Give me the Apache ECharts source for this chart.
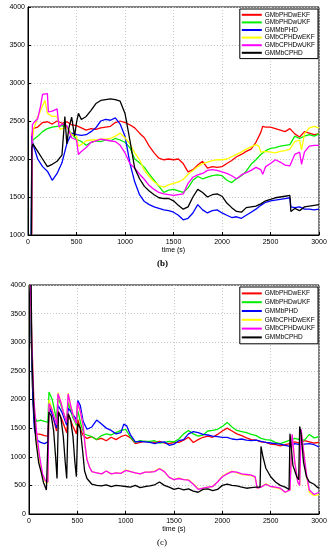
<!DOCTYPE html>
<html><head><meta charset="utf-8">
<script src="https://cdn.jsdelivr.net/npm/echarts@6/dist/echarts.min.js"></script>
<style>html,body{margin:0;padding:0;background:#fff}#c{width:329px;height:550px}</style>
</head><body><div id="c"></div>
<script>
const seriesNames = ['GMbPHDwEKF','GMbPHDwUKF','GMMbPHD','GMbCPHDwEKF','GMbCPHDwUKF','GMMbCPHD'];
const seriesColors = ['#ff0000','#00ee00','#0000ff','#ffff00','#ff00ff','#000000'];
const xTicks = [0,500,1000,1500,2000,2500,3000];

// (b) OSPA Localization Error, [time, value]
const locPHDwEKF = [[35,1000],[40,2300],[50,2400],[100,2420],[150,2480],[200,2490],[250,2460],[300,2500],[350,2470],[400,2490],[450,2450],[500,2440],[550,2410],[600,2380],[650,2400],[700,2390],[750,2410],[800,2420],[850,2430],[900,2480],[950,2500],[1000,2480],[1050,2450],[1100,2410],[1150,2340],[1200,2280],[1250,2170],[1300,2080],[1350,2010],[1400,1990],[1450,2000],[1500,1990],[1550,2000],[1600,1940],[1650,1830],[1700,1860],[1750,1920],[1800,1970],[1850,1880],[1900,1900],[1950,1890],[2000,1900],[2050,1940],[2100,1980],[2150,2030],[2200,2060],[2250,2100],[2300,2130],[2350,2220],[2400,2350],[2420,2430],[2450,2420],[2500,2420],[2550,2400],[2600,2380],[2650,2360],[2700,2400],[2750,2330],[2800,2290],[2850,2360],[2900,2340],[2950,2320],[3000,2330]];
const locPHDwUKF = [[33,1000],[40,2200],[50,2250],[100,2300],[150,2360],[200,2400],[250,2420],[300,2430],[350,2440],[400,2420],[450,2330],[500,2260],[550,2230],[600,2180],[650,2220],[700,2240],[750,2230],[800,2250],[850,2240],[900,2270],[950,2250],[1000,2220],[1050,2150],[1100,2000],[1150,1950],[1200,1890],[1250,1800],[1300,1720],[1350,1640],[1400,1560],[1450,1590],[1500,1600],[1550,1580],[1600,1560],[1620,1540],[1650,1620],[1700,1720],[1750,1770],[1800,1740],[1850,1760],[1900,1780],[1950,1790],[2000,1780],[2050,1720],[2100,1690],[2150,1740],[2200,1780],[2250,1840],[2300,1930],[2350,1990],[2400,2060],[2450,2110],[2500,2140],[2550,2150],[2600,2170],[2650,2180],[2700,2190],[2750,2300],[2800,2270],[2850,2300],[2900,2320],[2950,2300],[3000,2330]];
const locMbPHD = [[32,1000],[40,2300],[50,2200],[100,2000],[150,1900],[200,1840],[250,1720],[300,1810],[350,1950],[400,2200],[450,2340],[500,2320],[550,2310],[600,2320],[650,2360],[700,2410],[750,2500],[800,2520],[850,2510],[900,2540],[950,2460],[1000,2300],[1050,1950],[1100,1700],[1150,1530],[1200,1440],[1250,1400],[1300,1370],[1350,1350],[1400,1330],[1450,1320],[1500,1300],[1550,1260],[1600,1200],[1650,1220],[1700,1290],[1750,1400],[1800,1330],[1850,1290],[1900,1320],[1950,1330],[2000,1290],[2050,1260],[2100,1230],[2150,1240],[2200,1220],[2250,1260],[2300,1300],[2350,1340],[2400,1390],[2450,1430],[2500,1450],[2550,1460],[2600,1470],[2650,1480],[2700,1490],[2710,1370],[2750,1360],[2800,1370],[2850,1340],[2900,1340],[2950,1330],[3000,1340]];
const locCPHDwEKF = [[38,1000],[45,2250],[60,2400],[100,2550],[150,2700],[175,2770],[200,2600],[250,2560],[300,2560],[330,2390],[350,2380],[400,2420],[450,2320],[500,2300],[520,2170],[550,2190],[600,2240],[650,2250],[700,2250],[750,2260],[800,2260],[850,2270],[900,2300],[950,2340],[1000,2280],[1050,2200],[1100,2080],[1150,1990],[1200,1850],[1250,1770],[1300,1700],[1350,1650],[1400,1630],[1450,1660],[1500,1680],[1550,1700],[1600,1730],[1650,1800],[1700,1850],[1750,1900],[1800,1940],[1850,1960],[1900,1980],[1950,1990],[2000,1990],[2050,2000],[2100,2030],[2150,2060],[2200,2090],[2250,2130],[2300,2160],[2350,2190],[2380,2170],[2400,2090],[2450,2100],[2500,2090],[2550,2080],[2600,2100],[2650,2110],[2700,2130],[2750,2230],[2800,2250],[2820,2120],[2850,2330],[2900,2410],[2950,2430],[3000,2410]];
const locCPHDwUKF = [[38,1000],[45,2450],[60,2480],[100,2530],[130,2700],[150,2850],[200,2860],[210,2620],[250,2630],[300,2660],[320,2420],[350,2460],[400,2440],[450,2280],[500,2250],[520,2060],[550,2100],[600,2150],[650,2220],[700,2240],[750,2260],[800,2250],[850,2240],[900,2230],[950,2180],[1000,2080],[1050,1940],[1100,1880],[1150,1800],[1200,1730],[1250,1650],[1300,1600],[1350,1560],[1400,1540],[1450,1530],[1500,1520],[1550,1530],[1600,1540],[1620,1560],[1650,1680],[1700,1760],[1750,1790],[1800,1810],[1850,1850],[1900,1860],[1950,1850],[2000,1830],[2050,1810],[2100,1780],[2150,1740],[2200,1790],[2250,1820],[2300,1850],[2350,1890],[2400,1860],[2420,1800],[2450,1900],[2500,1940],[2550,1990],[2600,1960],[2650,1920],[2700,1910],[2750,2060],[2800,2090],[2820,1930],[2850,2090],[2900,2170],[2950,2180],[3000,2180]];
const locMbCPHD = [[36,1000],[40,2150],[50,2200],[100,2100],[150,2000],[200,1900],[250,1930],[300,1970],[350,2050],[380,2560],[400,2200],[420,2400],[450,2550],[480,2300],[500,2480],[520,2600],[550,2520],[600,2560],[650,2640],[700,2730],[750,2770],[800,2780],[850,2790],[900,2780],[950,2760],[1000,2600],[1050,2250],[1100,1880],[1150,1740],[1200,1640],[1250,1580],[1300,1530],[1350,1490],[1400,1480],[1450,1480],[1500,1450],[1550,1390],[1600,1340],[1650,1370],[1700,1500],[1750,1600],[1800,1560],[1850,1500],[1900,1530],[1950,1540],[2000,1510],[2050,1420],[2100,1360],[2150,1310],[2200,1300],[2250,1360],[2300,1370],[2350,1380],[2400,1410],[2450,1450],[2500,1470],[2550,1490],[2600,1500],[2650,1510],[2700,1520],[2710,1310],[2750,1350],[2800,1320],[2850,1370],[2900,1380],[2950,1390],[3000,1400]];

// (c) OSPA Cardinality Error, [time, value]
const cardPHDwEKF = [[15,4000],[25,3000],[40,2000],[60,1500],[80,1400],[120,1390],[160,1370],[195,1360],[207,1880],[240,1750],[285,1450],[300,1800],[340,1650],[390,1420],[405,1750],[450,1550],[490,1400],[505,1650],[540,1450],[560,1370],[600,1320],[650,1350],[700,1300],[750,1320],[800,1280],[850,1340],[900,1300],[950,1350],[1000,1380],[1050,1330],[1100,1230],[1150,1250],[1200,1270],[1250,1260],[1300,1250],[1350,1270],[1400,1240],[1450,1230],[1500,1250],[1550,1250],[1600,1290],[1650,1340],[1700,1250],[1750,1300],[1800,1340],[1850,1360],[1900,1340],[1950,1390],[2000,1450],[2050,1500],[2100,1450],[2150,1400],[2200,1370],[2250,1330],[2300,1300],[2350,1290],[2400,1260],[2450,1250],[2500,1220],[2550,1210],[2600,1190],[2650,1210],[2700,1230],[2750,1260],[2800,1240],[2850,1280],[2900,1260],[2950,1240],[3000,1250]];
const cardPHDwUKF = [[15,4000],[25,3000],[40,2000],[60,1700],[80,1620],[120,1640],[160,1620],[195,1600],[207,2130],[240,2000],[285,1650],[300,2050],[340,1850],[390,1600],[405,1950],[450,1700],[490,1550],[505,1800],[540,1550],[570,1400],[600,1380],[650,1350],[700,1300],[750,1370],[800,1400],[850,1380],[900,1420],[950,1460],[1000,1480],[1050,1340],[1100,1250],[1150,1280],[1200,1270],[1250,1270],[1300,1280],[1350,1240],[1400,1250],[1450,1270],[1500,1260],[1550,1310],[1600,1400],[1650,1460],[1700,1400],[1750,1360],[1800,1380],[1850,1450],[1900,1460],[1950,1480],[2000,1530],[2050,1600],[2100,1520],[2150,1460],[2200,1440],[2250,1420],[2300,1390],[2350,1370],[2400,1320],[2450,1300],[2500,1290],[2550,1250],[2600,1230],[2650,1260],[2700,1290],[2750,1320],[2800,1300],[2850,1290],[2900,1390],[2950,1330],[3000,1350]];
const cardMbPHD = [[15,4000],[25,3000],[40,2000],[55,1500],[80,1300],[120,1250],[160,1230],[195,1260],[207,1850],[240,1750],[285,1500],[300,1900],[340,1780],[390,1550],[405,1850],[450,1750],[490,1650],[505,1980],[530,1900],[560,1620],[600,1480],[650,1520],[700,1640],[750,1570],[800,1500],[850,1460],[900,1400],[950,1420],[980,1570],[1010,1540],[1050,1380],[1100,1260],[1150,1270],[1200,1260],[1250,1250],[1300,1230],[1350,1250],[1400,1260],[1450,1200],[1500,1220],[1550,1280],[1600,1300],[1650,1400],[1700,1440],[1750,1420],[1800,1390],[1850,1380],[1900,1360],[1950,1350],[2000,1340],[2050,1340],[2100,1310],[2150,1300],[2200,1310],[2250,1290],[2300,1280],[2350,1290],[2400,1270],[2450,1250],[2500,1240],[2550,1230],[2600,1220],[2650,1200],[2700,1180],[2750,1230],[2800,1210],[2850,1220],[2900,1230],[2950,1210],[3000,1170]];
const cardCPHDwEKF = [[15,4000],[30,3000],[50,2000],[80,1300],[110,950],[140,650],[170,560],[195,540],[207,1990],[230,1880],[260,1700],[290,1560],[300,2120],[330,1950],[360,1750],[390,1600],[405,2110],[430,1900],[460,1700],[490,1580],[502,1900],[530,1800],[560,1550],[580,1200],[600,950],[625,820],[650,740],[700,720],[750,700],[800,750],[850,700],[900,720],[950,710],[1000,770],[1050,740],[1100,720],[1150,700],[1200,730],[1250,730],[1300,750],[1350,800],[1400,740],[1450,640],[1500,600],[1550,630],[1600,600],[1650,600],[1700,530],[1750,440],[1800,450],[1850,470],[1900,480],[1950,560],[2000,660],[2050,710],[2100,750],[2150,720],[2200,690],[2250,680],[2300,670],[2340,640],[2360,450],[2400,470],[2450,530],[2500,480],[2550,460],[2600,440],[2650,380],[2700,420],[2715,400],[2722,1380],[2750,900],[2780,560],[2800,500],[2815,1470],[2840,1100],[2870,680],[2900,380],[2950,320],[3000,340]];
const cardCPHDwUKF = [[15,4000],[30,3000],[50,2000],[80,1400],[110,1000],[140,700],[170,580],[195,560],[207,1930],[230,1850],[260,1700],[290,1560],[300,2100],[330,1950],[360,1750],[390,1600],[405,2100],[430,1900],[460,1700],[490,1580],[502,1950],[530,1800],[560,1550],[580,1200],[600,950],[625,820],[650,740],[700,720],[750,700],[800,750],[850,700],[900,720],[950,710],[1000,760],[1050,740],[1100,720],[1150,700],[1200,730],[1250,730],[1300,740],[1350,790],[1400,740],[1450,640],[1500,600],[1550,620],[1600,600],[1650,590],[1700,520],[1750,430],[1800,450],[1850,470],[1900,480],[1950,560],[2000,650],[2050,700],[2100,740],[2150,730],[2200,700],[2250,690],[2300,680],[2340,650],[2360,450],[2400,470],[2450,520],[2500,480],[2550,470],[2600,450],[2650,380],[2700,420],[2715,400],[2722,1390],[2750,900],[2780,560],[2800,500],[2815,1480],[2840,1100],[2870,700],[2900,420],[2950,340],[3000,380]];
const cardMbCPHD = [[22,4000],[30,2800],[50,1800],[70,1300],[100,900],[130,700],[150,550],[180,420],[195,450],[205,1780],[230,1720],[255,1450],[275,1000],[290,620],[305,1780],[330,1680],[355,1350],[375,900],[390,620],[405,1750],[430,1650],[455,1350],[475,900],[490,650],[505,1580],[530,1500],[555,1100],[575,750],[600,620],[650,520],[700,500],[750,490],[800,510],[850,480],[900,500],[950,490],[1000,480],[1050,470],[1100,500],[1150,460],[1200,480],[1250,490],[1300,510],[1350,560],[1400,500],[1450,470],[1500,430],[1550,450],[1600,420],[1650,440],[1700,400],[1750,380],[1800,430],[1850,440],[1900,410],[1950,430],[2000,500],[2050,520],[2100,500],[2150,490],[2200,470],[2250,450],[2300,460],[2350,470],[2390,470],[2400,1180],[2420,1000],[2450,800],[2500,650],[2550,560],[2600,500],[2650,470],[2690,430],[2700,1400],[2730,850],[2770,650],[2790,600],[2800,1530],[2815,1400],[2840,900],[2870,650],[2900,560],[2950,520],[2980,470],[3000,450]];

const locData = [locPHDwEKF, locPHDwUKF, locMbPHD, locCPHDwEKF, locCPHDwUKF, locMbCPHD];
const cardData = [cardPHDwEKF, cardPHDwUKF, cardMbPHD, cardCPHDwEKF, cardCPHDwUKF, cardMbCPHD];

const FONT = 'Liberation Sans';
const chart = echarts.init(document.getElementById('c'), null, {renderer:'canvas'});

function xAxis(gi){
  return {type:'value', gridIndex:gi, min:0, max:3000, interval:500,
    name:'time (s)', nameLocation:'middle', nameGap:12,
    nameTextStyle:{fontFamily:FONT, fontSize:7, color:'#000'},
    axisLine:{show:true, lineStyle:{color:'#000', width:1}},
    axisTick:{show:true, inside:true, length:3, lineStyle:{color:'#000'}},
    axisLabel:{fontFamily:FONT, fontSize:7, color:'#000', margin:4,
      formatter:(v)=> xTicks.includes(v) ? String(v) : ''},
    splitLine:{show:true, lineStyle:{color:'#c8c8c8', type:[1,2], width:1}}};
}
function yAxis(gi, min, name){
  return {type:'value', gridIndex:gi, min:min, max:4000, interval:500,
    name:name, nameLocation:'middle', nameGap:20, nameRotate:90,
    nameTextStyle:{fontFamily:FONT, fontSize:7, color:'#000'},
    axisLine:{show:true, lineStyle:{color:'#000', width:1}},
    axisTick:{show:true, inside:true, length:3, lineStyle:{color:'#000'}},
    axisLabel:{fontFamily:FONT, fontSize:7, color:'#000', margin:3, formatter:(v)=>String(v)},
    splitLine:{show:true, lineStyle:{color:'#c8c8c8', type:[1,2], width:1}}};
}
function legend(top, lh){
  return {orient:'vertical', right:11, top:top, data:seriesNames,
    icon:'rect', itemWidth:20, itemHeight:2, itemGap:0,
    backgroundColor:'#fff', borderColor:'#000', borderWidth:1, borderRadius:0,
    padding:[2,3,2,2],
    textStyle:{fontFamily:FONT, fontSize:6.5, color:'#000', lineHeight:lh, padding:[0,0,0,-2]},
    selectedMode:false};
}
const series = [];
locData.forEach((d,i)=> series.push({name:seriesNames[i], type:'line', xAxisIndex:0, yAxisIndex:0,
  data:d, showSymbol:false, symbol:'none', lineStyle:{color:seriesColors[i], width:1.3}, itemStyle:{color:seriesColors[i]}, z:2+i}));
cardData.forEach((d,i)=> series.push({name:seriesNames[i], type:'line', xAxisIndex:1, yAxisIndex:1,
  data:d, showSymbol:false, symbol:'none', lineStyle:{color:seriesColors[i], width:1.3}, itemStyle:{color:seriesColors[i]}, z:2+i}));

chart.setOption({
  animation:false,
  backgroundColor:'#fff',
  grid:[
    {left:28, right:10, top:7, height:228, show:true, borderColor:'#000', borderWidth:1, backgroundColor:'transparent', outerBoundsMode:'none', containLabel:false},
    {left:29, right:10, top:285, height:229, show:true, borderColor:'#000', borderWidth:1, backgroundColor:'transparent', outerBoundsMode:'none', containLabel:false}
  ],
  xAxis:[xAxis(0), xAxis(1)],
  yAxis:[yAxis(0,1000,'OSPA Localization Error (m)'), yAxis(1,0,'OSPA Cardinality Error (m)')],
  legend:[legend(9, 7.6), legend(287, 8.8)],
  series:series,
  graphic:[
    {type:'text', left:157, top:259, style:{text:'(b)', fontFamily:'Liberation Serif', fontWeight:'bold', fontSize:9, fill:'#000'}},
    {type:'text', left:157, top:538, style:{text:'(c)', fontFamily:'Liberation Serif', fontSize:9, fill:'#000'}}
  ]
});
</script></body></html>
